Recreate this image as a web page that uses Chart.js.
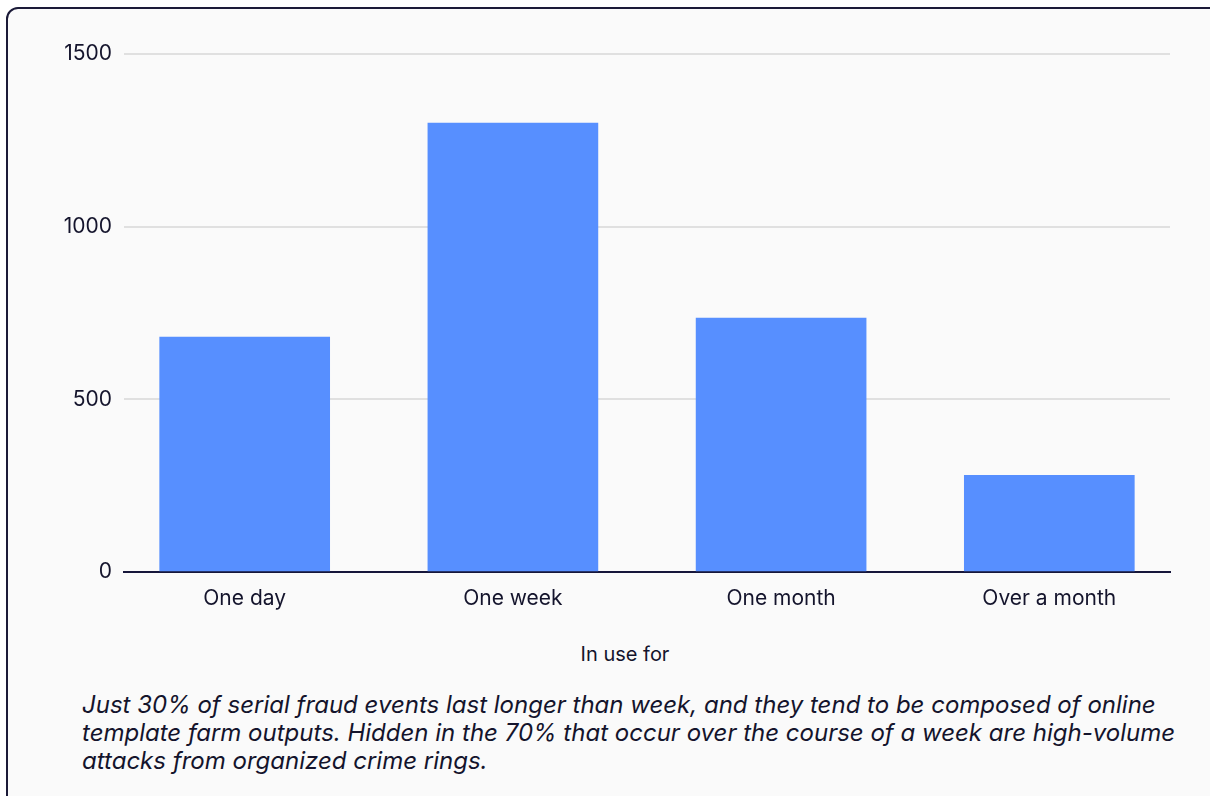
<!DOCTYPE html>
<html>
<head>
<meta charset="utf-8">
<script src="https://cdn.jsdelivr.net/npm/chart.js@4/dist/chart.umd.min.js"></script>
<style>
  html, body { margin: 0; padding: 0; width: 1210px; height: 796px; overflow: hidden; background: #ffffff; }
  body { position: relative; font-family: Inter, 'Noto Sans', sans-serif; color: #14142c; }
  .card {
    position: absolute; left: 6px; top: 7px; width: 1300px; height: 900px;
    box-sizing: border-box; border: 2.5px solid #1b1a38; border-radius: 12px;
    background: #fafafa;
  }
  #chart-wrap { position: absolute; left: 0; top: 0; width: 1210px; height: 630px; }
  .axis-title {
    position: absolute; left: 0; top: 642px; width: 1250px; height: 24px;
    line-height: 24px; text-align: center; font-size: 20px;
  }
  .caption {
    position: absolute; left: 82px; top: 691px; font-size: 24px; line-height: 28px;
    font-style: italic; white-space: nowrap;
  }
</style>
</head>
<body>
<div class="card"></div>
<div id="chart-wrap"><canvas id="duration-chart" width="1210" height="630"></canvas></div>
<div class="axis-title">In use for</div>
<div class="caption">
  Just 30% of serial fraud events last longer than week, and they tend to be composed of online<br>
  template farm outputs. Hidden in the 70% that occur over the course of a week are high-volume<br>
  attacks from organized crime rings.
</div>
<script>
const categories = ['One day', 'One week', 'One month', 'Over a month'];
const counts = [680, 1300, 735, 280];
const yTicks = [0, 500, 1000, 1500];

const textColor = '#14142c';
const tickFont = { family: 'Inter', size: 21 };

const ctx = document.getElementById('duration-chart').getContext('2d');

new Chart(ctx, {
  type: 'bar',
  data: {
    datasets: [{
      data: categories.map((c, i) => ({ x: i, y: counts[i] })),
      backgroundColor: '#578fff',
      borderWidth: 0,
      barThickness: 170
    }]
  },
  options: {
    responsive: false,
    animation: false,
    layout: { padding: { left: 0, right: 40, top: 54, bottom: 0 } },
    plugins: { legend: { display: false }, tooltip: { enabled: false } },
    scales: {
      x: {
        type: 'linear',
        offset: false,
        min: -0.45,
        max: 3.45,
        afterBuildTicks: scale => { scale.ticks = categories.map((c, i) => ({ value: i })); },
        afterFit: scale => { scale.height = 58; },
        grid: { display: false, drawTicks: false, offset: false },
        border: { display: true, color: '#16163a', width: 2 },
        ticks: {
          padding: 14,
          color: textColor,
          font: tickFont,
          autoSkip: false,
          maxRotation: 0,
          callback: v => categories[v]
        }
      },
      y: {
        min: yTicks[0],
        max: yTicks[yTicks.length - 1],
        afterBuildTicks: scale => { scale.ticks = yTicks.map(v => ({ value: v })); },
        afterFit: scale => { scale.width = 124; },
        grid: { color: '#e0e0e0', lineWidth: 2, drawTicks: false },
        border: { display: false },
        ticks: { padding: 12, color: textColor, font: tickFont, callback: v => String(v) }
      }
    }
  }
});
</script>
</body>
</html>
